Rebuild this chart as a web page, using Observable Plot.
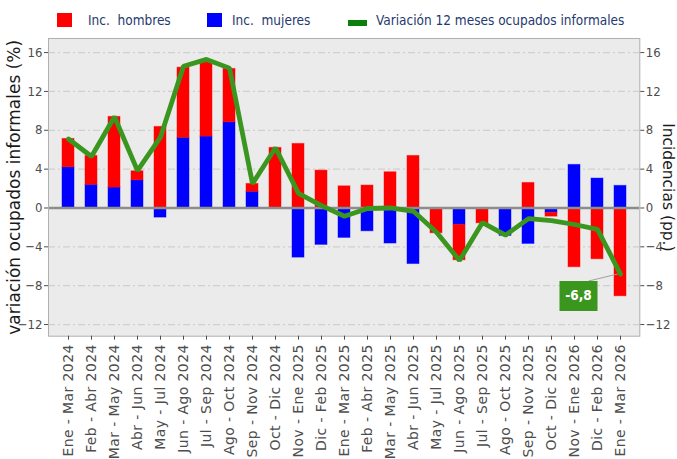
<!DOCTYPE html>
<html><head><meta charset="utf-8">
<script src="https://cdn.jsdelivr.net/npm/d3@7"></script>
<script src="https://cdn.jsdelivr.net/npm/@observablehq/plot@0.6"></script>
<style>
body{margin:0;background:#fff;}
#wrap{position:relative;width:677px;height:459px;overflow:hidden;}
#legend{position:absolute;left:0;top:0;width:677px;height:30px;font-family:"DejaVu Sans Condensed","DejaVu Sans",sans-serif;font-size:13.5px;color:#1f3a6e;}
.sw{position:absolute;}
.lt{position:absolute;top:12px;line-height:16px;white-space:nowrap;}
#chart{position:absolute;left:0;top:30px;}
g[aria-label="x-axis tick label"] text{font-family:"DejaVu Sans",sans-serif;font-size:14px;letter-spacing:0.4px;}
</style>
</head><body>
<div id="wrap">
  <div id="legend">
    <div class="sw" style="left:57px;top:13px;width:15px;height:14px;background:#ff0000"></div>
    <div class="lt" style="left:88px">Inc.&nbsp; hombres</div>
    <div class="sw" style="left:207px;top:13px;width:15px;height:14px;background:#0000ff"></div>
    <div class="lt" style="left:232px">Inc.&nbsp; mujeres</div>
    <div class="sw" style="left:348px;top:20px;width:19px;height:6px;background:#0a800a"></div>
    <div class="lt" style="left:376px">Variación 12 meses ocupados informales</div>
  </div>
  <div id="chart"></div>
</div>
<script>
const categorias = ["Ene - Mar 2024","Feb - Abr 2024","Mar - May 2024","Abr - Jun 2024","May - Jul 2024","Jun - Ago 2024","Jul - Sep 2024","Ago - Oct 2024","Sep - Nov 2024","Oct - Dic 2024","Nov - Ene 2025","Dic - Feb 2025","Ene - Mar 2025","Feb - Abr 2025","Mar - May 2025","Abr - Jun 2025","May - Jul 2025","Jun - Ago 2025","Jul - Sep 2025","Ago - Oct 2025","Sep - Nov 2025","Oct - Dic 2025","Nov - Ene 2026","Dic - Feb 2026","Ene - Mar 2026"];
const hombres = [2.92, 2.98, 7.28, 0.93, 8.35, 7.23, 7.72, 5.5, 0.82, 6.19, 6.6, 3.85, 2.23, 2.31, 3.68, 5.36, -2.5, -3.64, -1.58, 0, 2.58, -0.39, -6.1, -5.28, -9.09];
const mujeres = [4.19, 2.38, 2.10, 2.85, -0.99, 7.22, 7.35, 8.82, 1.66, 0, -5.11, -3.8, -3.08, -2.4, -3.66, -5.77, -0.1, -1.74, 0, -2.87, -3.7, -0.5, 4.44, 3.03, 2.28];
const variacion = [7.1, 5.3, 9.4, 3.85, 7.3, 14.6, 15.3, 14.4, 2.5, 6.2, 1.5, 0.25, -0.85, -0.05, 0.0, -0.34, -2.5, -5.4, -1.5, -2.8, -1.1, -1.3, -1.7, -2.2, -6.8];
const yTicks = [-12, -8, -4, 0, 4, 8, 12, 16];
const series = ["Inc. hombres", "Inc. mujeres"];
const tituloY = "variación ocupados informales (%)";
const tituloY2 = "Incidencias (pp.)";

const rows = [
  ...mujeres.map((v, i) => ({cat: categorias[i], serie: series[1], v})),
  ...hombres.map((v, i) => ({cat: categorias[i], serie: series[0], v}))
];
const linea = categorias.map((c, i) => ({cat: c, v: variacion[i]}));
const last = linea[linea.length - 1];
const boxSymbol = {draw(ctx) { ctx.rect(-19, -15, 38, 30); }};
const connSymbol = {draw(ctx) { ctx.moveTo(-32, 7); ctx.lineTo(-3, 0); }};

const plot = Plot.plot({
  width: 677, height: 429,
  marginTop: 8, marginBottom: 123.3, marginLeft: 48, marginRight: 37.7,
  style: {fontFamily: "'DejaVu Sans Condensed','DejaVu Sans',sans-serif", fontSize: "13px", color: "#4d4d4d", background: "transparent", overflow: "visible"},
  x: {domain: categorias, paddingInner: 0.5, paddingOuter: 0.25, label: null},
  y: {domain: [-13.2, 17.45], label: null},
  color: {domain: series, range: ["#ff0000", "#0000ff"]},
  marks: [
    Plot.frame({fill: "#ebebeb", stroke: null}),
    Plot.ruleY(yTicks, {stroke: "#d0d0d0", strokeWidth: 1.3, strokeDasharray: "7,3,2,3"}),
    Plot.barY(rows, Plot.stackY({x: "cat", y: "v", fill: "serie", stroke: "serie", strokeOpacity: 0.45, strokeWidth: 1})),
    Plot.ruleY([0], {stroke: "#8c8c8c", strokeWidth: 2.5}),
    Plot.lineY(linea, {x: "cat", y: "v", stroke: "#3a961e", strokeWidth: 4.8, strokeLinejoin: "miter"}),
    Plot.dot([last], {x: "cat", y: "v", symbol: connSymbol, stroke: "#a0a0a0", fill: "none", strokeWidth: 1}),
    Plot.dot([last], {x: "cat", y: "v", symbol: boxSymbol, fill: "#3a961e", dx: -42, dy: 22}),
    Plot.text([last], {x: "cat", y: "v", text: d => String(d.v).replace(".", ","), dx: -42, dy: 22, fill: "white", fontWeight: "bold", fontSize: 13.5, fontFamily: "DejaVu Sans Condensed"}),
    Plot.frame({stroke: "#b0b0b0", strokeWidth: 1}),
    Plot.axisY({anchor: "left", ticks: yTicks, tickSize: 4, tickPadding: 2, label: null}),
    Plot.axisY({anchor: "right", ticks: yTicks, tickSize: 4, tickPadding: 2, label: null}),
    Plot.axisX({tickRotate: -90, tickSize: 4, tickPadding: 4, label: null}),
    Plot.text([tituloY], {text: d => d, frameAnchor: "left", textAnchor: "middle", lineAnchor: "middle", dx: -34, rotate: -90, fontSize: 17, fontFamily: "DejaVu Sans", fill: "#1a1a1a"}),
    Plot.text([tituloY2], {text: d => d, frameAnchor: "right", textAnchor: "middle", lineAnchor: "middle", dx: 28.5, rotate: 90, fontSize: 15.5, fontFamily: "DejaVu Sans", fill: "#1a1a1a"})
  ]
});
document.getElementById("chart").appendChild(plot);
</script>
</body></html>
